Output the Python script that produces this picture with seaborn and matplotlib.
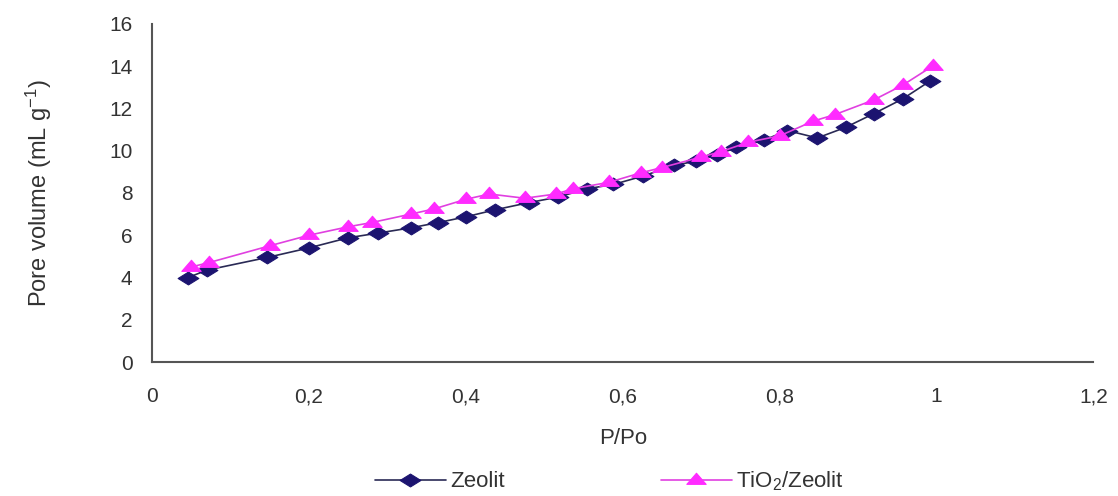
import matplotlib
matplotlib.use("Agg")
import matplotlib.pyplot as plt
import seaborn as sns
import pandas as pd
from matplotlib.ticker import FuncFormatter
from matplotlib.path import Path

# Data
zeolit_x = [0.046, 0.07, 0.147, 0.2, 0.25, 0.288, 0.33, 0.365, 0.4, 0.437, 0.48, 0.517,
            0.555, 0.588, 0.626, 0.665, 0.693, 0.72, 0.745, 0.78, 0.81, 0.848, 0.884,
            0.92, 0.957, 0.992]
zeolit_y = [4.0, 4.35, 4.95, 5.4, 5.88, 6.1, 6.35, 6.6, 6.87, 7.2, 7.54, 7.8,
            8.2, 8.4, 8.8, 9.3, 9.5, 9.8, 10.15, 10.5, 10.95, 10.6, 11.1,
            11.75, 12.45, 13.3]
tio2_x = [0.05, 0.072, 0.15, 0.2, 0.25, 0.28, 0.33, 0.36, 0.4, 0.43, 0.475, 0.515,
          0.537, 0.582, 0.623, 0.65, 0.7, 0.725, 0.76, 0.8, 0.843, 0.87, 0.92,
          0.957, 0.995]
tio2_y = [4.5, 4.7, 5.5, 6.0, 6.4, 6.6, 7.0, 7.25, 7.7, 7.95, 7.75, 7.95,
          8.2, 8.5, 8.95, 9.2, 9.7, 9.95, 10.4, 10.7, 11.4, 11.7, 12.4,
          13.1, 14.0]
x_ticks = [0, 0.2, 0.4, 0.6, 0.8, 1.0, 1.2]
y_ticks = [0, 2, 4, 6, 8, 10, 12, 14, 16]

sns.set_theme(style="white")
plt.rcParams["font.family"] = ["Liberation Sans", "DejaVu Sans"]
plt.rcParams["mathtext.fontset"] = "custom"
plt.rcParams["mathtext.rm"] = "Liberation Sans"
plt.rcParams["mathtext.it"] = "Liberation Sans"

# wide (flattened) marker shapes as in the reference
wide_diamond = Path([(-1.0, 0.0), (0.0, 0.62), (1.0, 0.0), (0.0, -0.62), (-1.0, 0.0)],
                    [Path.MOVETO, Path.LINETO, Path.LINETO, Path.LINETO, Path.CLOSEPOLY])
wide_triangle = Path([(-1.0, -0.4), (0.0, 0.75), (1.0, -0.4), (-1.0, -0.4)],
                     [Path.MOVETO, Path.LINETO, Path.LINETO, Path.CLOSEPOLY])

df_z = pd.DataFrame({"x": zeolit_x, "y": zeolit_y})
df_t = pd.DataFrame({"x": tio2_x, "y": tio2_y})

fig = plt.figure(figsize=(11.18, 4.96), dpi=100)
ax = fig.add_axes([0.136, 0.27, 0.842, 0.682])

sns.lineplot(data=df_z, x="x", y="y", ax=ax, sort=False, estimator=None,
             color="#2a2a55", lw=1.2, marker=wide_diamond, markersize=15,
             markerfacecolor="#1c1470", markeredgecolor="#1c1470",
             label="Zeolit")
sns.lineplot(data=df_t, x="x", y="y", ax=ax, sort=False, estimator=None,
             color="#e040e0", lw=1.2, marker=wide_triangle, markersize=14,
             markerfacecolor="#ff2bff", markeredgecolor="#ff2bff",
             label="TiO$_2$/Zeolit")

ax.set_xlim(0, 1.2)
ax.set_ylim(0, 16)
ax.set_xticks(x_ticks)
ax.set_yticks(y_ticks)
ax.xaxis.set_major_formatter(FuncFormatter(lambda v, p: f"{v:g}".replace(".", ",")))
ax.tick_params(axis="both", direction="out", length=6, width=1, color="#555555",
               labelsize=15, labelcolor="#333333")
ax.tick_params(axis="x", pad=12)
ax.tick_params(axis="y", pad=8)
for s in ["top", "right"]:
    ax.spines[s].set_visible(False)
for s in ["left", "bottom"]:
    ax.spines[s].set_color("#555555")
    ax.spines[s].set_linewidth(1.5)

ax.set_xlabel("P/Po", fontsize=16, color="#333333", labelpad=16)
ax.set_ylabel("Pore volume (mL g$^{-1}$)", fontsize=17, color="#333333", labelpad=40)

handles, labels = ax.get_legend_handles_labels()
ax.get_legend().remove()
fig.legend(handles, labels, loc="center", bbox_to_anchor=(0.545, 0.03), ncol=2,
           frameon=False, fontsize=16, columnspacing=7, handlelength=3.2,
           handletextpad=0.2, labelcolor="#333333")

fig.savefig("out.png", dpi=100, facecolor="white")
